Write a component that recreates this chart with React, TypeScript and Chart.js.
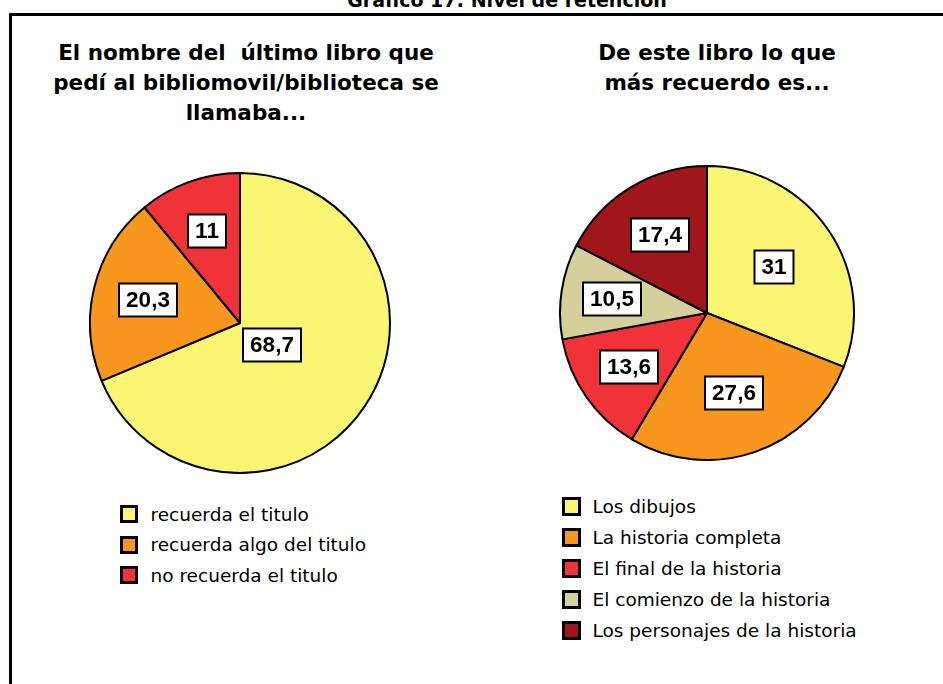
import React, { useEffect, useRef } from "react";
import { Chart, registerables } from "chart.js";

Chart.register(...registerables);

// ---- data ----
const headerTitle = "Gráfico 17: Nivel de retención";

const title1 = ["El nombre del\u00a0 último libro que", "pedí al bibliomovil/biblioteca se", "llamaba..."];
const labels1 = ["recuerda el titulo", "recuerda algo del titulo", "no recuerda el titulo"];
const values1 = [68.7, 20.3, 11];
const colors1 = ["#FAF674", "#F7971E", "#EF3339"];

const title2 = ["De este libro lo que", "más recuerdo es..."];
const labels2 = [
  "Los dibujos",
  "La historia completa",
  "El final de la historia",
  "El comienzo de la historia",
  "Los personajes de la historia",
];
const values2 = [31, 27.6, 13.6, 10.5, 17.4];
const colors2 = ["#FAF674", "#F7971E", "#EF3339", "#D5CF9B", "#A1161B"];

// label placement (fraction of radius along the slice's mid angle)
const labelRadii1 = [0.26, 0.63, 0.655];
const labelRadii2 = [0.553, 0.578, 0.648, 0.654, 0.62];

const boxLabelPlugin = {
  id: "boxLabels",
  afterDatasetsDraw(chart: any, _args: any, opts: any) {
    const ctx = chart.ctx;
    const meta = chart.getDatasetMeta(0);
    const data = chart.data.datasets[0].data;
    ctx.save();
    ctx.font = "bold 22.5px 'Liberation Sans', Arial, sans-serif";
    ctx.textAlign = "center";
    ctx.textBaseline = "middle";
    meta.data.forEach((arc: any, i: number) => {
      const { x, y, startAngle, endAngle, outerRadius } = arc.getProps(
        ["x", "y", "startAngle", "endAngle", "outerRadius"],
        true
      );
      const mid = (startAngle + endAngle) / 2;
      const f = (opts.radii && opts.radii[i]) ?? 0.6;
      const px = Math.round(x + Math.cos(mid) * outerRadius * f);
      const py = Math.round(y + Math.sin(mid) * outerRadius * f);
      const text = String(data[i]).replace(".", ",");
      const w = Math.round(ctx.measureText(text).width + 14);
      const h = 33;
      ctx.fillStyle = "#ffffff";
      ctx.fillRect(px - w / 2, py - h / 2, w, h);
      ctx.lineWidth = 2;
      ctx.strokeStyle = "#000000";
      ctx.strokeRect(px - w / 2, py - h / 2, w, h);
      ctx.fillStyle = "#000000";
      ctx.fillText(text, px, py + 1);
    });
    ctx.restore();
  },
};

function Pie(props: {
  labels: string[];
  values: number[];
  colors: string[];
  radii: number[];
  left: number;
  top: number;
  size: number;
}) {
  const ref = useRef<HTMLCanvasElement | null>(null);
  useEffect(() => {
    if (!ref.current) return;
    const chart = new Chart(ref.current, {
      type: "pie",
      data: {
        labels: props.labels,
        datasets: [
          {
            data: props.values,
            backgroundColor: props.colors,
            borderColor: "#000000",
            borderWidth: 2,
          },
        ],
      },
      options: {
        responsive: false,
        animation: false,
        devicePixelRatio: 1,
        layout: { padding: 0 },
        plugins: {
          legend: { display: false },
          tooltip: { enabled: false },
          title: { display: false },
          boxLabels: { radii: props.radii },
        } as any,
      },
      plugins: [boxLabelPlugin],
    });
    return () => chart.destroy();
  }, []);
  return (
    <canvas
      ref={ref}
      width={props.size}
      height={props.size}
      style={{
        position: "absolute",
        left: props.left,
        top: props.top,
        width: props.size,
        height: props.size,
      }}
    />
  );
}

function Title(props: { lines: string[]; center: number; top: number }) {
  return (
    <div
      style={{
        position: "absolute",
        left: props.center - 250,
        width: 500,
        top: props.top,
        textAlign: "center",
        fontFamily: "'DejaVu Sans', sans-serif",
        fontWeight: "bold",
        fontSize: 21.5,
        lineHeight: "30px",
        color: "#000",
        whiteSpace: "nowrap",
      }}
    >
      {props.lines.map((l, i) => (
        <div key={i}>{l}</div>
      ))}
    </div>
  );
}

function Legend(props: {
  labels: string[];
  colors: string[];
  left: number;
  top: number;
  rowH: number;
  box: number;
  gap: number;
}) {
  return (
    <div style={{ position: "absolute", left: props.left, top: props.top }}>
      {props.labels.map((l, i) => (
        <div
          key={i}
          style={{
            height: props.rowH,
            display: "flex",
            alignItems: "center",
            whiteSpace: "nowrap",
          }}
        >
          <div
            style={{
              width: props.box,
              height: props.box,
              boxSizing: "border-box",
              border: "3px solid #000",
              background: props.colors[i],
              marginRight: props.gap,
              flex: "none",
            }}
          />
          <span
            style={{
              fontFamily: "'DejaVu Sans', sans-serif",
              fontSize: 18.5,
              color: "#000",
            }}
          >
            {l}
          </span>
        </div>
      ))}
    </div>
  );
}

export default function App() {
  return (
    <div
      style={{
        position: "fixed",
        left: 0,
        top: 0,
        width: 943,
        height: 684,
        overflow: "hidden",
        background: "#ffffff",
      }}
    >
      <div
        style={{
          position: "absolute",
          left: 507,
          top: -9,
          transform: "translateX(-50%)",
          fontFamily: "'DejaVu Sans', sans-serif",
          fontWeight: "bold",
          fontSize: 19,
          lineHeight: "19px",
          whiteSpace: "nowrap",
          color: "#000",
        }}
      >
        {headerTitle}
      </div>
      <div
        style={{
          position: "absolute",
          left: 9,
          top: 13,
          width: 1000,
          height: 800,
          borderTop: "3px solid #000",
          borderLeft: "3px solid #000",
        }}
      />
      <Title lines={title1} center={246} top={38} />
      <Title lines={title2} center={717} top={38} />
      <Pie labels={labels1} values={values1} colors={colors1} radii={labelRadii1} left={89} top={172} size={302} />
      <Pie labels={labels2} values={values2} colors={colors2} radii={labelRadii2} left={559} top={165} size={296} />
      <Legend labels={labels1} colors={colors1} left={120} top={499} rowH={30.5} box={18} gap={12.5} />
      <Legend labels={labels2} colors={colors2} left={562} top={491} rowH={31} box={19} gap={11.5} />
    </div>
  );
}
